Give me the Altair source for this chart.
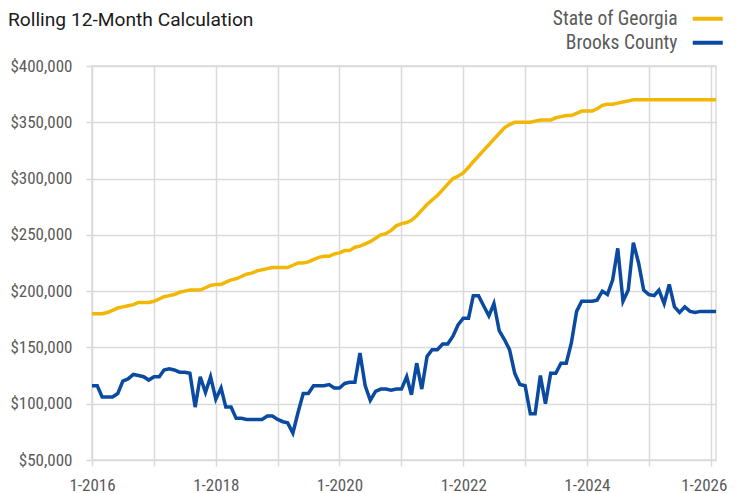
import altair as alt
import pandas as pd

# ---- data ----
chart_title = ["Rolling 12-Month Calculation"]
series_names = ["State of Georgia", "Brooks County"]
series_colors = ["#F2B705", "#0A4AA0"]

georgia = [
    180, 180, 180, 181, 183, 185, 186, 187, 188, 190, 190, 190,
    191, 193, 195, 196, 197, 199, 200, 201, 201, 201, 203, 205,
    206, 206, 208, 210, 211, 213, 215, 216, 218, 219, 220, 221,
    221, 221, 221, 223, 225, 225, 226, 228, 230, 231, 231, 233,
    234, 236, 236, 239, 240, 242, 244, 247, 250, 251, 254, 258,
    260, 261, 263, 267, 272, 277, 281, 285, 290, 295, 300, 302,
    305, 310, 315, 320, 325, 330, 335, 340, 345, 348, 350, 350,
    350, 350, 351, 352, 352, 352, 354, 355, 356, 356, 358, 360,
    360, 360, 362, 365, 366, 366, 367, 368, 369, 370, 370, 370,
    370, 370, 370, 370, 370, 370, 370, 370, 370, 370, 370, 370,
    370, 370,
]

brooks = [
    116, 116, 106, 106, 106, 109, 120, 122, 126, 125, 124, 121,
    124, 124, 130, 131, 130, 128, 128, 127, 97, 124, 110, 124,
    104, 114, 97, 97, 87, 87, 86, 86, 86, 86, 89, 89,
    86, 84, 83, 74, 92, 109, 109, 116, 116, 116, 117, 114,
    114, 118, 119, 119, 145, 116, 103, 111, 113, 113, 112, 113,
    113, 124, 108, 136, 113, 142, 148, 148, 153, 153, 160, 170,
    176, 176, 196, 196, 187, 178, 189, 165, 157, 148, 127, 117,
    116, 91, 91, 125, 100, 127, 127, 136, 136, 154, 182, 191,
    191, 191, 192, 200, 197, 210, 238, 191, 201, 243, 225, 201,
    197, 196, 201, 189, 206, 186, 181, 186, 182, 181, 182, 182,
    182, 182,
]

months = pd.date_range("2016-01-01", "2026-02-01", freq="MS").strftime("%Y/%m/%d").tolist()

y_ticks = [50000, 100000, 150000, 200000, 250000, 300000, 350000, 400000]
x_tick_years = list(range(2016, 2027))

rows = []
for name, vals in zip(series_names, [georgia, brooks]):
    for m, v in zip(months, vals):
        rows.append({"date": m, "value": v * 1000, "series": name})
df = pd.DataFrame(rows)

GRID = "#dadada"
LABEL = "#5a5a5a"
NARROW = "Roboto Condensed"

lines = (
    alt.Chart(df)
    .mark_line(strokeWidth=3.5)
    .encode(
        x=alt.X(
            "date:T",
            title=None,
            scale=alt.Scale(
                domain=[
                    alt.DateTime(year=2016, month=1, date=1),
                    alt.DateTime(year=2026, month=2, date=1),
                ],
                nice=False,
            ),
            axis=alt.Axis(
                values=[alt.DateTime(year=y, month=1, date=1) for y in x_tick_years],
                labelExpr="year(datum.value) % 2 == 0 ? '1-' + year(datum.value) : ''",
                grid=True,
                gridColor=GRID,
                gridWidth=1.5,
                domain=False,
                tickColor=GRID,
                tickWidth=1.5,
                tickSize=6,
                labelPadding=11,
                labelFont=NARROW,
                labelFontSize=17,
                labelColor=LABEL,
                labelOverlap=False,
                labelFlush=False,
                labelOffset={
                    "condition": {"test": "year(datum.value) == 2026", "value": -7},
                    "value": 0,
                },
            ),
        ),
        y=alt.Y(
            "value:Q",
            title=None,
            scale=alt.Scale(domain=[50000, 400000], nice=False, zero=False),
            axis=alt.Axis(
                values=y_ticks,
                format="$,.0f",
                grid=True,
                gridColor=GRID,
                gridWidth=1.5,
                domain=False,
                tickColor=GRID,
                tickWidth=1.5,
                tickSize=6,
                labelPadding=14,
                labelFont=NARROW,
                labelFontSize=17,
                labelColor=LABEL,
            ),
        ),
        color=alt.Color(
            "series:N",
            title=None,
            scale=alt.Scale(domain=series_names, range=series_colors),
            legend=alt.Legend(
                orient="none",
                legendX=606,
                legendY=-57,
                symbolType="M-3,0H3",
                symbolSize=100,
                symbolStrokeWidth=4,
                labelAlign="right",
                labelOffset=alt.ExprRef(expr="-40"),
                labelFont=NARROW,
                labelFontSize=19.5,
                labelColor=LABEL,
                rowPadding=3,
                padding=0,
            ),
        ),
    )
)

title_layer = (
    alt.Chart(pd.DataFrame({"t": chart_title}))
    .mark_text(
        align="left",
        baseline="alphabetic",
        font="Roboto",
        fontSize=19.2,
        color="#1a1a1a",
    )
    .encode(x=alt.value(-84), y=alt.value(-40), text="t:N")
)

chart = (
    alt.layer(lines, title_layer)
    .properties(
        width=624,
        height=394,
        autosize=alt.AutoSizeParams(type="none"),
        padding={"left": 84, "top": 58, "right": 12, "bottom": 33},
    )
    .configure_view(stroke=GRID, strokeWidth=1.5)
)

chart.save("out.html", embed_options={"renderer": "svg", "actions": False})
